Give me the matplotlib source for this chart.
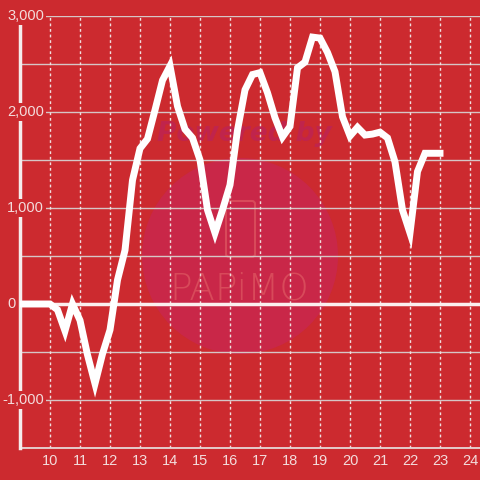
import matplotlib
matplotlib.use("Agg")
import matplotlib.pyplot as plt
from matplotlib.patches import Circle, FancyBboxPatch
from matplotlib.transforms import blended_transform_factory
import numpy as np

hours = [9.0, 9.25, 9.5, 9.75, 10.0, 10.25, 10.5, 10.75, 11.0, 11.25, 11.5, 11.75,
         12.0, 12.25, 12.5, 12.75, 13.0, 13.25, 13.5, 13.75, 14.0, 14.25, 14.5, 14.75,
         15.0, 15.25, 15.5, 15.75, 16.0, 16.25, 16.5, 16.75, 17.0, 17.25, 17.5, 17.75,
         18.0, 18.25, 18.5, 18.75, 19.0, 19.25, 19.5, 19.75, 20.0, 20.25, 20.5, 20.75,
         21.0, 21.25, 21.5, 21.75, 22.0, 22.25, 22.5, 22.75, 23.0]
values = [0, 0, 0, 0, 0, -60, -280, 0, -170, -530, -830, -520,
          -270, 250, 560, 1290, 1620, 1720, 2020, 2330, 2480, 2060, 1820, 1730,
          1500, 980, 740, 980, 1240, 1810, 2230, 2390, 2410, 2200, 1940, 1740,
          1850, 2460, 2520, 2780, 2770, 2620, 2420, 1950, 1750, 1840, 1760, 1770,
          1790, 1730, 1480, 980, 740, 1380, 1570, 1570, 1570]

x_ticks = list(range(10, 25))
y_ticks = [-1000, 0, 1000, 2000, 3000]
y_labels = ["-1,000", "0", "1,000", "2,000", "3,000"]
y_grid = list(range(-1500, 3001, 500))

RED = "#CC2A2F"
LABEL = "#F3DCDC"

fig = plt.figure(figsize=(4.8, 4.8), dpi=100, facecolor=RED)
ax = fig.add_axes([20/480, 32/480, 460/480, 432/480])
ax.set_xlim(9.0, 9.0 + 460/30)
ax.set_ylim(-1500, 3000)

# watermark
wm = fig.add_axes([0, 0, 1, 1], zorder=-1)
wm.set_xlim(0, 480); wm.set_ylim(480, 0); wm.axis("off")
wm.patch.set_alpha(0)
ax.patch.set_alpha(0)
wm.add_patch(Circle((240, 256), 98, facecolor="#C92748", edgecolor="none"))
wm.text(244, 134, "Powered by", ha="center", va="center", fontsize=19,
        fontweight="bold", style="italic", color="#C0244C", family="DejaVu Sans")
wm.add_patch(FancyBboxPatch((226, 201), 29, 56, boxstyle="round,pad=0,rounding_size=3",
                            facecolor="none", edgecolor="#D84A5A", lw=1.5))
wm.text(239, 289, "PAPiMO", ha="center", va="center", fontsize=27,
        color="#D84A5A", family="DejaVu Sans", fontweight="light")

for g in y_grid:
    ax.axhline(g, color="#D6C6C6", lw=1.0, zorder=1)
for t in x_ticks:
    ax.axvline(t, color="#F0E0E0", lw=1.0, ls=(0, (2, 2)), zorder=1)
ax.axhline(0, color="#FBEFEF", lw=2.5, zorder=2)

ax.plot(hours, values, color="white", lw=5, solid_joinstyle="miter", zorder=4)

for s in ["top", "right"]:
    ax.spines[s].set_visible(False)
ax.spines["left"].set_color("#F5ECEC")
ax.spines["left"].set_linewidth(2.5)
ax.spines["bottom"].set_color("#E6D6D6")
ax.spines["bottom"].set_linewidth(1.3)
ax.spines["left"].set_zorder(3)

ax.set_xticks(x_ticks)
ax.set_xticklabels([str(t) for t in x_ticks])
ax.tick_params(axis="x", length=0, pad=4, labelsize=10.5, labelcolor=LABEL)
ax.set_yticks([])

trans = blended_transform_factory(fig.transFigure, ax.transData)
for v, lab in zip(y_ticks, y_labels):
    xpx = 2 if lab.startswith("-") else 7
    ax.text(xpx/480, v, lab, ha="left", va="center", fontsize=10.5,
            color=LABEL, family="Liberation Sans", zorder=6, clip_on=False,
            transform=trans,
            bbox=dict(facecolor=RED, edgecolor="none", pad=1.5))
for lab in ax.get_xticklabels():
    lab.set_family("Liberation Sans")

fig.savefig("out.png", dpi=100, facecolor=RED)
